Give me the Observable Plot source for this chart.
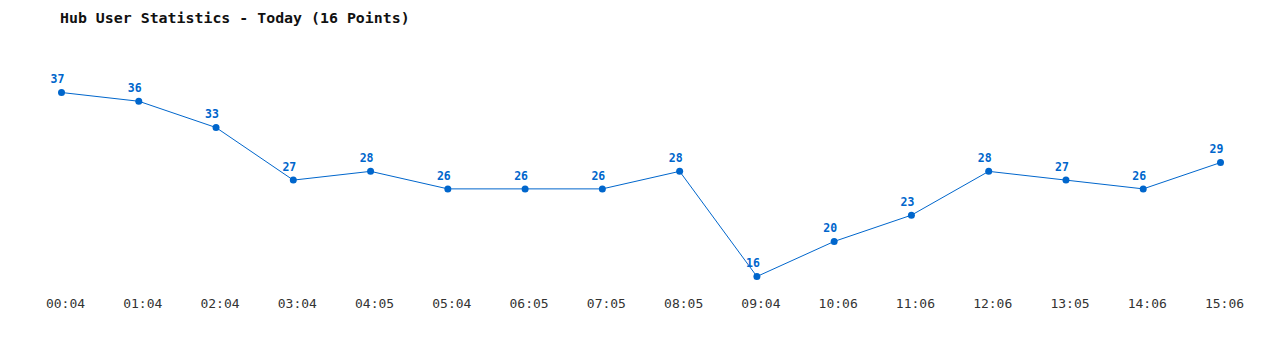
<!DOCTYPE html>
<html>
<head>
<meta charset="utf-8">
<script src="https://cdn.jsdelivr.net/npm/d3@7"></script>
<script src="https://cdn.jsdelivr.net/npm/@observablehq/plot@0.6"></script>
<style>
  html, body { margin: 0; padding: 0; background: #fff; }
  #title { height: 36px; line-height: 36px; padding-left: 60px; font-family: "DejaVu Sans Mono", monospace; font-size: 14.9px; font-weight: bold; color: #111; white-space: pre; }
</style>
</head>
<body>
<div id="title">Hub User Statistics - Today (16 Points)</div>
<div id="chart"></div>
<script>
const times = ["00:04","01:04","02:04","03:04","04:05","05:04","06:05","07:05","08:05","09:04","10:06","11:06","12:06","13:05","14:06","15:06"];
const users = [37,36,33,27,28,26,26,26,28,16,20,23,28,27,26,29];

const data = times.map((t, i) => ({time: t, users: users[i]}));
const blue = "#0066cc";

const chart = Plot.plot({
  width: 1280,
  height: 314,
  marginTop: 0,
  marginBottom: 54,
  marginLeft: 61,
  marginRight: 60,
  style: {background: "#fff"},
  x: {type: "point", domain: times, range: [61, 1220], padding: 0, round: false, label: null},
  y: {domain: [16, 37], range: [240, 56], axis: null},
  marks: [
    Plot.axisX({tickSize: 0, tickPadding: 2, dx: 4, fontSize: 13, fill: "#333", fontFamily: "DejaVu Sans Mono, monospace", label: null}),
    Plot.line(data, {x: "time", y: "users", stroke: blue, strokeWidth: 1}),
    Plot.dot(data, {x: "time", y: "users", fill: blue, r: 3.5}),
    Plot.text(data, {x: "time", y: "users", text: d => String(d.users), dx: -4, dy: -13, fill: blue, fontWeight: "bold", fontSize: 11.5, fontFamily: "DejaVu Sans Mono, monospace"})
  ]
});
document.getElementById("chart").appendChild(chart);
</script>
</body>
</html>
